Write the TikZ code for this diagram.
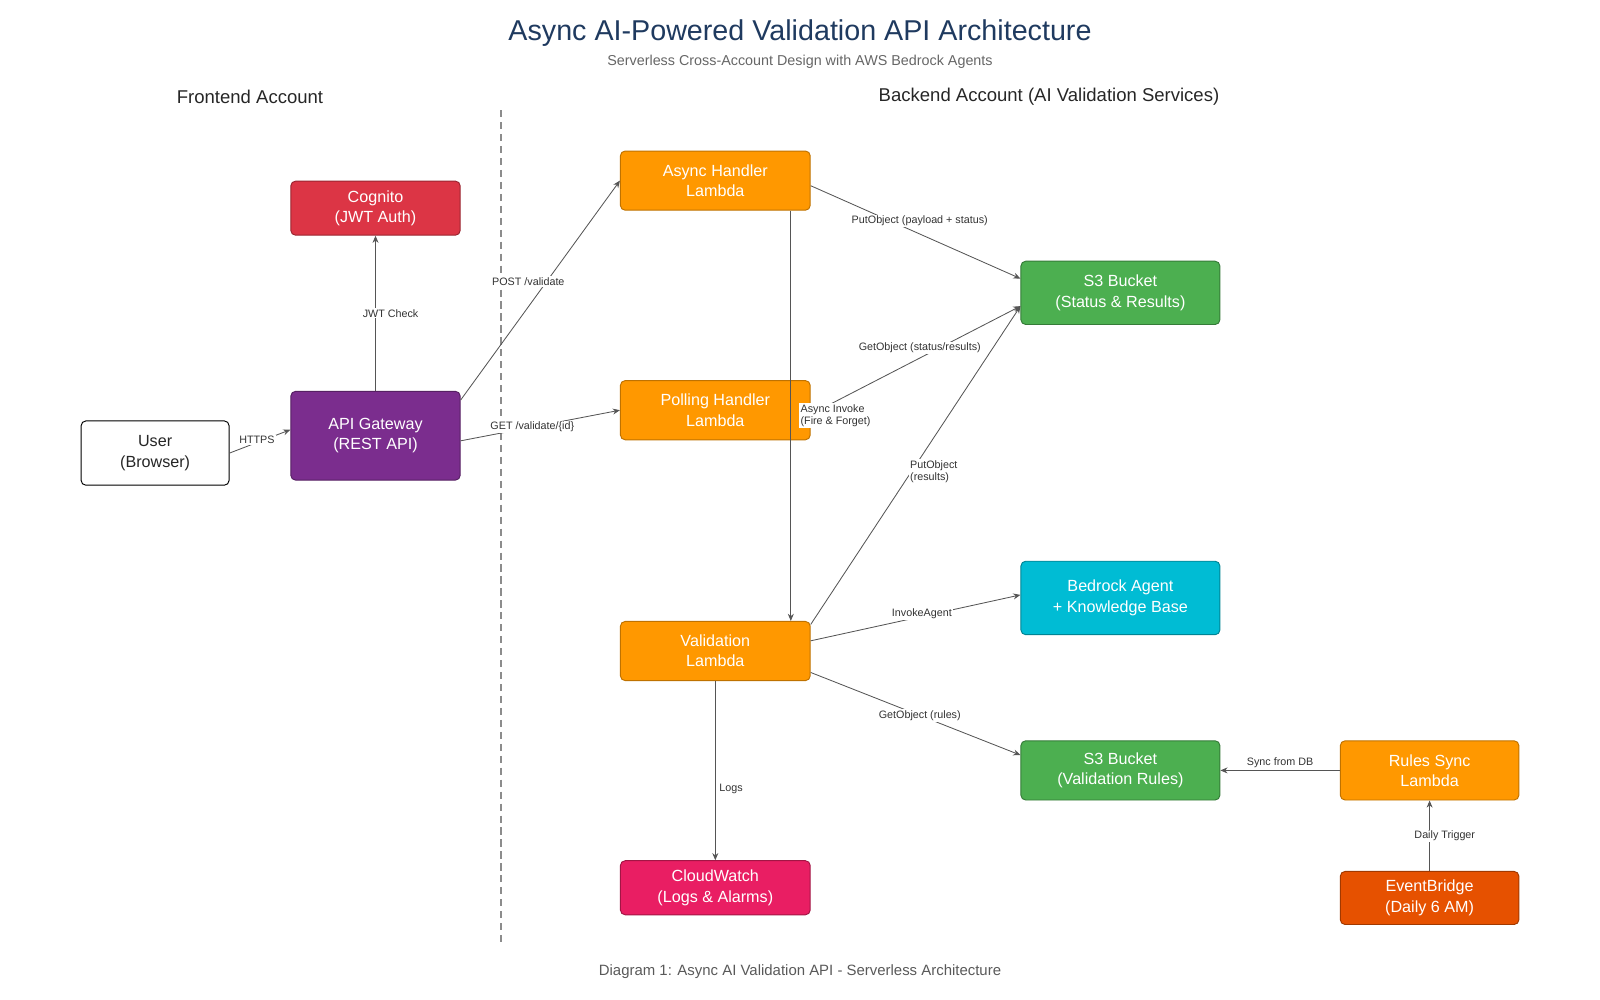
\documentclass[tikz,border=0pt]{standalone}
\usepackage{fontspec}
\setmainfont{Liberation Sans}
\usetikzlibrary{arrows.meta}
\definecolor{cred}{HTML}{DC3545}
\definecolor{cpurple}{HTML}{7B2D8E}
\definecolor{corange}{HTML}{FF9800}
\definecolor{cpink}{HTML}{E91E63}
\definecolor{cgreen}{HTML}{4CAF50}
\definecolor{ccyan}{HTML}{00BCD4}
\definecolor{cdeep}{HTML}{E65100}
\definecolor{ctitle}{HTML}{1F3A5F}
\definecolor{cline}{HTML}{555555}
\begin{document}
\begin{tikzpicture}
        [x=0.3mm,y=-0.3mm,
        box/.style={draw,rounded corners=4pt,line width=0.8pt,text=white,align=center,font=\fontsize{13.5}{17}\selectfont,inner sep=0},
        lbl/.style={font=\fontsize{9}{10.5}\selectfont,text=black!80,fill=white,inner sep=1pt,align=left},
        every path/.style={line width=0.7pt},
        arr/.style={draw=cline,-{Stealth[length=6pt,width=5pt]}}]

        \useasboundingbox (0,0) rectangle (1568,980);

        \node[font=\fontsize{24}{28}\selectfont,text=ctitle] (title) at (784,32) {Async AI-Powered Validation API Architecture};
        \node[font=\fontsize{12}{14}\selectfont,text=black!60] (sub) at (784,61) {Serverless Cross-Account Design with AWS Bedrock Agents};
        \node[font=\fontsize{15.5}{18}\selectfont,text=black!85] (front) at (245,95) {Frontend Account};
        \node[font=\fontsize{15.5}{18}\selectfont,text=black!85] (back) at (1028,95) {Backend Account (AI Validation Services)};
        \node[font=\fontsize{12.5}{14}\selectfont,text=black!65] (cap) at (784,952) {Diagram 1: Async AI Validation API - Serverless Architecture};

        \coordinate (d1) at (491,108);
        \coordinate (d2) at (491,925);
        \draw[black!45,dashed,line width=1pt,dash pattern=on 6pt off 4pt] (d1) -- (d2);

        \node[box,fill=white,draw=black,text=black!85,minimum width=145*0.3mm,minimum height=63*0.3mm] (user) at (152,444) {User\\(Browser)};
        \node[box,fill=cred,draw=cred!70!black,minimum width=166*0.3mm,minimum height=53*0.3mm] (cognito) at (368,204) {Cognito\\(JWT Auth)};
        \node[box,fill=cpurple,draw=cpurple!70!black,minimum width=166*0.3mm,minimum height=87*0.3mm] (api) at (368,427) {API Gateway\\(REST API)};
        \node[box,fill=corange,draw=corange!75!black,minimum width=186*0.3mm,minimum height=58*0.3mm] (async) at (701,177) {Async Handler\\Lambda};
        \node[box,fill=corange,draw=corange!75!black,minimum width=186*0.3mm,minimum height=58*0.3mm] (poll) at (701,402) {Polling Handler\\Lambda};
        \node[box,fill=corange,draw=corange!75!black,minimum width=186*0.3mm,minimum height=58*0.3mm] (valid) at (701,638) {Validation\\Lambda};
        \node[box,fill=cpink,draw=cpink!70!black,minimum width=186*0.3mm,minimum height=53*0.3mm] (cw) at (701,870) {CloudWatch\\(Logs \& Alarms)};
        \node[box,fill=cgreen,draw=cgreen!70!black,minimum width=195*0.3mm,minimum height=62*0.3mm] (s3s) at (1098,287) {S3 Bucket\\(Status \& Results)};
        \node[box,fill=ccyan,draw=ccyan!70!black,minimum width=195*0.3mm,minimum height=72*0.3mm] (bed) at (1098,586) {Bedrock Agent\\+ Knowledge Base};
        \node[box,fill=cgreen,draw=cgreen!70!black,minimum width=195*0.3mm,minimum height=58*0.3mm] (s3r) at (1098,755) {S3 Bucket\\(Validation Rules)};
        \node[box,fill=corange,draw=corange!75!black,minimum width=175*0.3mm,minimum height=58*0.3mm] (sync) at (1401,755) {Rules Sync\\Lambda};
        \node[box,fill=cdeep,draw=cdeep!70!black,minimum width=175*0.3mm,minimum height=52*0.3mm] (evb) at (1401,880) {EventBridge\\(Daily 6 AM)};

        \draw[arr] (user.east) -- node[lbl,above=-2pt,pos=0.45] {HTTPS} ([yshift=5pt]api.west);
        \draw[arr] (api.north) -- node[lbl,right=-12pt,pos=0.5] {JWT Check} (cognito.south);
        \draw[arr] ([yshift=35*0.3mm]api.east) -- node[lbl,pos=0.54,xshift=-18*0.3mm] {POST /validate} (async.west);
        \draw[arr] ([yshift=-5*0.3mm]api.east) -- node[lbl,pos=0.45] {GET /validate/\{id\}} (poll.west);
        \draw[arr] ([yshift=-5*0.3mm]async.east) -- node[lbl,pos=0.52,yshift=13*0.3mm] {PutObject (payload + status)} ([yshift=14*0.3mm]s3s.west);
        \draw[arr] ([yshift=-4*0.3mm]poll.east) -- node[lbl,pos=0.52,yshift=10*0.3mm] {GetObject (status/results)} ([yshift=-13*0.3mm]s3s.west);
        \draw[arr] ([xshift=74*0.3mm]async.south) -- node[lbl,anchor=west,xshift=8*0.3mm,pos=0.5] {Async Invoke\\(Fire \& Forget)} ([xshift=74*0.3mm]valid.north);
        \draw[arr] ([yshift=26*0.3mm]valid.east) -- node[lbl,pos=0.48,xshift=22*0.3mm] {PutObject\\(results)} ([yshift=-13*0.3mm]s3s.west);
        \draw[arr] ([yshift=10*0.3mm]valid.east) -- node[lbl,pos=0.53,yshift=3*0.3mm] {InvokeAgent} ([yshift=3*0.3mm]bed.west);
        \draw[arr] ([yshift=-21*0.3mm]valid.east) -- node[lbl,pos=0.52] {GetObject (rules)} ([yshift=15*0.3mm]s3r.west);
        \draw[arr] (valid.south) -- node[lbl,right=2pt,pos=0.6] {Logs} (cw.north);
        \draw[arr] (sync.west) -- node[lbl,above=1pt,pos=0.5] {Sync from DB} (s3r.east);
        \draw[arr] (evb.north) -- node[lbl,right=-14pt,pos=0.5] {Daily Trigger} (sync.south);

      \end{tikzpicture}
\end{document}
